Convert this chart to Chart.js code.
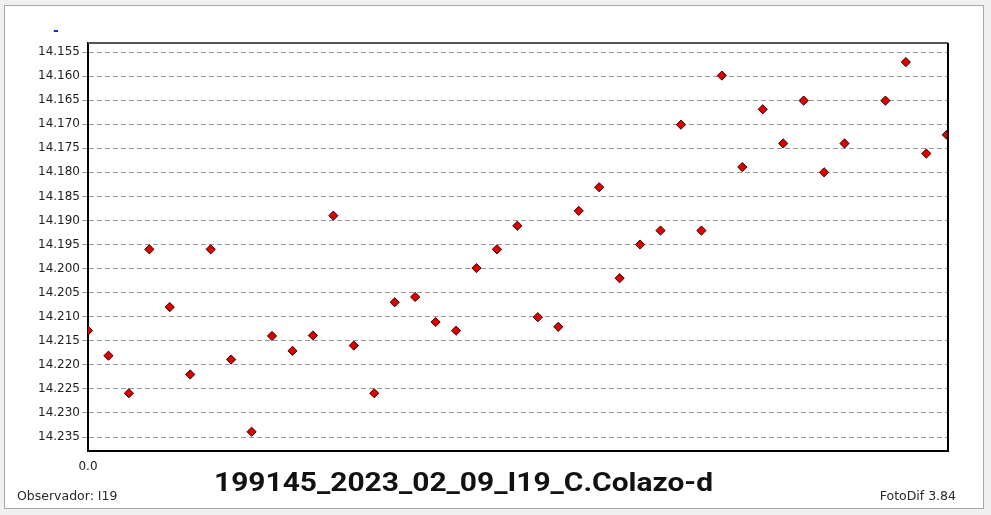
<!DOCTYPE html>
<html>
<head>
<meta charset="utf-8">
<script src="https://cdn.jsdelivr.net/npm/chart.js@4.4.0/dist/chart.umd.min.js"></script>
<style>
  html, body { margin: 0; padding: 0; background: #f0f0f0; }
  body { width: 991px; height: 515px; position: relative; overflow: hidden; }
  #frame { position: absolute; left: 4px; top: 5px; width: 978px; height: 502px; background: #fff; border: 1px solid #a8a8a8; }
  #c { position: absolute; left: 0; top: 0; }
  .txt { position: absolute; white-space: nowrap; }
  #title { left: 214px; top: 467px; font-family: Roboto, sans-serif; font-weight: 700; font-size: 26px; color: #111; transform-origin: 0 0; }
  #obs { left: 17px; top: 488px; font-family: "DejaVu Sans", sans-serif; font-size: 12.5px; color: #2a2a2a; }
  #ver { right: 35px; top: 488px; font-family: "DejaVu Sans", sans-serif; font-size: 12.5px; color: #2a2a2a; }
  #leg { left: 53px; top: 22px; font-family: "DejaVu Sans", sans-serif; font-size: 14px; font-weight: 700; color: #1a2ad0; }
</style>
</head>
<body>
<div id="frame"></div>
<canvas id="c" width="991" height="515"></canvas>
<div class="txt" id="leg">-</div>
<div class="txt" id="title">199145_2023_02_09_I19_C.Colazo-d</div>
<div class="txt" id="obs">Observador: I19</div>
<div class="txt" id="ver">FotoDif 3.84</div>
<script>
// ---- data ----
const xIndex = [0,1,2,3,4,5,6,7,8,9,10,11,12,13,14,15,16,17,18,19,20,21,22,23,24,25,26,27,28,29,30,31,32,33,34,35,36,37,39,40,41,42];
const mags = [14.2129,14.2181,14.2259,14.1960,14.2080,14.2220,14.1960,14.2189,14.2339,14.2140,
              14.2171,14.2139,14.1890,14.2160,14.2259,14.2070,14.2059,14.2111,14.2129,14.1999,
              14.1960,14.1911,14.2101,14.2121,14.1880,14.1831,14.2020,14.1950,14.1921,14.1701,
              14.1921,14.1599,14.1789,14.1669,14.1740,14.1651,14.1800,14.1740,14.1651,14.1571,
              14.1761,14.1722];
const yTickLabels = ['14.155','14.160','14.165','14.170','14.175','14.180','14.185','14.190','14.195',
                     '14.200','14.205','14.210','14.215','14.220','14.225','14.230','14.235'];
const xTickLabels = ['0.0'];

const points = xIndex.map((x, i) => ({ x: x, y: mags[i] }));

// fit title width by horizontal scaling
(function(){
  const t = document.getElementById('title');
  const target = 499;
  const w = t.getBoundingClientRect().width;
  t.style.transform = 'scaleX(' + (target / w) + ')';
})();

const frameBox = {
  id: 'frameBox',
  afterDraw(chart) {
    const { ctx, chartArea: a } = chart;
    ctx.save();
    ctx.strokeStyle = '#555';
    ctx.lineWidth = 2;
    ctx.beginPath();
    ctx.moveTo(a.left, a.top);
    ctx.lineTo(a.right, a.top);
    ctx.stroke();
    ctx.strokeStyle = '#000';
    ctx.beginPath();
    ctx.moveTo(a.right, a.top);
    ctx.lineTo(a.right, a.bottom);
    ctx.stroke();
    ctx.restore();
  }
};

new Chart(document.getElementById('c'), {
  type: 'scatter',
  data: {
    datasets: [{
      data: points,
      pointStyle: 'rectRot',
      pointRadius: 4.6,
      pointHoverRadius: 4.6,
      backgroundColor: '#dd0000',
      borderColor: '#3a0000',
      borderWidth: 1,
      clip: 0
    }]
  },
  options: {
    responsive: false,
    animation: false,
    devicePixelRatio: 1,
    layout: { padding: { left: 0, top: 43, right: 43, bottom: 0 } },
    plugins: { legend: { display: false }, tooltip: { enabled: false } },
    scales: {
      x: {
        type: 'linear',
        min: 0,
        max: 42.06,
        afterBuildTicks: s => { s.ticks = xTickLabels.map(l => ({ value: parseFloat(l) })); },
        afterFit: s => { s.height = 64; },
        grid: { display: false, drawTicks: false },
        border: { display: true, color: '#000', width: 2 },
        ticks: {
          padding: 9,
          color: '#222',
          font: { family: 'DejaVu Sans', size: 12 },
          callback: (v, i) => xTickLabels[i]
        }
      },
      y: {
        type: 'linear',
        reverse: true,
        min: 14.15313,
        max: 14.2379,
        afterBuildTicks: s => { s.ticks = yTickLabels.map(l => ({ value: parseFloat(l) })); },
        afterFit: s => { s.width = 88; },
        grid: {
          color: '#999999',
          lineWidth: 1,
          drawTicks: true,
          tickLength: 6,
          tickColor: '#999999'
        },
        border: { display: true, color: '#000', width: 2, dash: [5, 3] },
        ticks: {
          padding: 2,
          color: '#1e1e1e',
          font: { family: 'DejaVu Sans', size: 12 },
          callback: (v, i) => yTickLabels[i]
        }
      }
    }
  },
  plugins: [frameBox]
});
</script>
</body>
</html>
